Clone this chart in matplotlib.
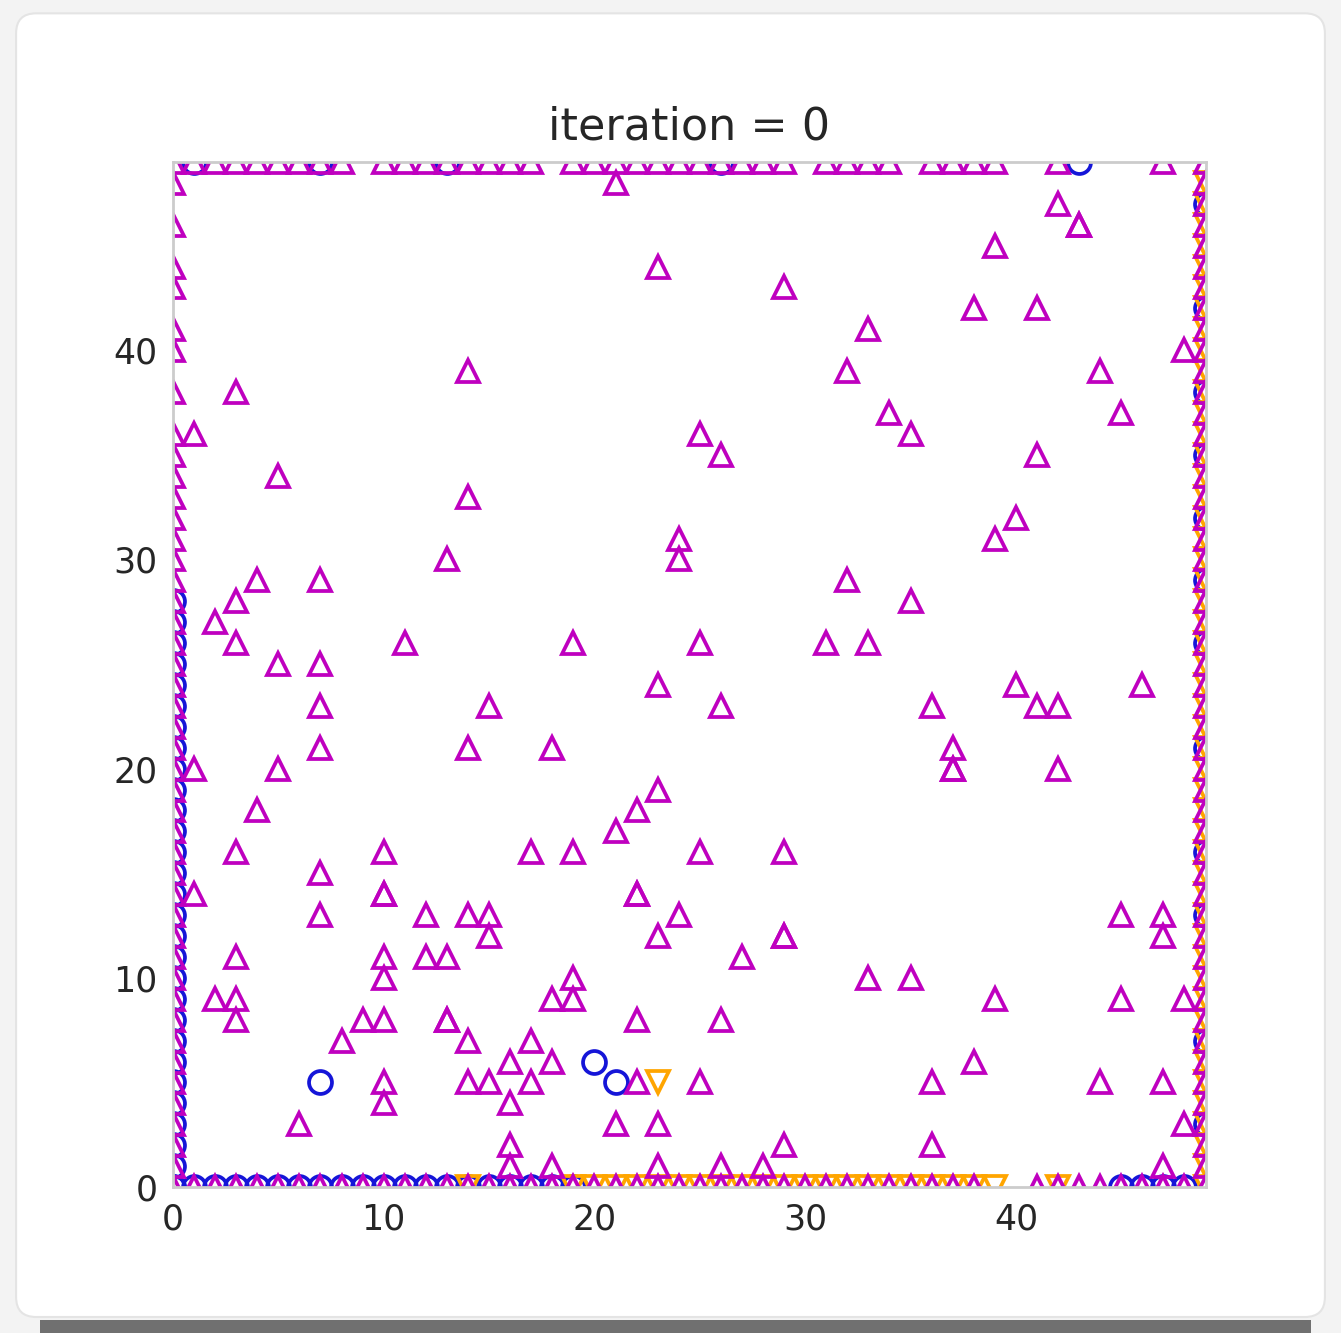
import matplotlib
matplotlib.use("Agg")
import matplotlib.pyplot as plt
from matplotlib.patches import FancyBboxPatch, Rectangle

# agents of type "a" (magenta up-triangles), interior cells; repeats = two agents in one cell
tri_x = [21, 23, 29, 42, 43, 43, 39, 38, 41, 33, 48, 32, 44, 14, 3, 34, 45, 1, 25, 35,
         26, 41, 5, 14, 40, 24, 39, 13, 24, 4, 7, 32, 3, 35, 2, 3, 11, 19, 25, 31,
         33, 5, 7, 23, 40, 46, 7, 15, 26, 36, 41, 42, 7, 14, 18, 37, 1, 5, 37, 37,
         42, 23, 4, 22, 21, 3, 10, 17, 19, 25, 29, 7, 1, 10, 10, 22, 22, 7, 12, 14,
         15, 24, 45, 47, 15, 23, 29, 29, 47, 3, 10, 12, 13, 27, 10, 19, 33, 35, 2, 3,
         18, 19, 39, 45, 48, 3, 9, 10, 13, 13, 22, 26, 8, 14, 17, 16, 18, 38, 10, 14,
         15, 17, 22, 25, 36, 44, 47, 10, 16, 6, 21, 23, 48, 16, 29, 36, 16, 18, 23, 26,
         28, 47]
tri_y = [48, 44, 43, 47, 46, 46, 45, 42, 42, 41, 40, 39, 39, 39, 38, 37, 37, 36, 36, 36,
         35, 35, 34, 33, 32, 31, 31, 30, 30, 29, 29, 29, 28, 28, 27, 26, 26, 26, 26, 26,
         26, 25, 25, 24, 24, 24, 23, 23, 23, 23, 23, 23, 21, 21, 21, 21, 20, 20, 20, 20,
         20, 19, 18, 18, 17, 16, 16, 16, 16, 16, 16, 15, 14, 14, 14, 14, 14, 13, 13, 13,
         13, 13, 13, 13, 12, 12, 12, 12, 12, 11, 11, 11, 11, 11, 10, 10, 10, 10, 9, 9,
         9, 9, 9, 9, 9, 8, 8, 8, 8, 8, 8, 8, 7, 7, 7, 6, 6, 6, 5, 5,
         5, 5, 5, 5, 5, 5, 5, 4, 4, 3, 3, 3, 3, 2, 2, 2, 1, 1, 1, 1,
         1, 1]

# type "a" agents pushed onto the border
tri_top_x = [0, 1, 2, 3, 4, 5, 6, 7, 8, 10, 11, 12, 13, 14, 15, 16, 17, 19, 20, 21,
             22, 23, 24, 25, 26, 27, 28, 29, 31, 32, 33, 34, 36, 37, 38, 39, 42, 47]
tri_bottom_x = [0, 1, 2, 3, 4, 5, 6, 7, 8, 9, 10, 11, 12, 13, 14, 15, 16, 17, 18, 19,
                20, 21, 22, 23, 24, 25, 26, 27, 28, 29, 30, 31, 32, 33, 34, 35, 36, 37, 38,
                41, 42, 43, 44, 45, 46, 47, 48]
tri_left_y = [48, 46, 44, 43, 41, 40, 38, 36, 35, 34, 33, 32, 31, 30, 29, 28, 27, 26, 25,
              24, 23, 22, 21, 20, 19, 18, 17, 16, 15, 14, 13, 12, 11, 10, 9, 8, 7, 6, 5,
              4, 3, 2, 1]
tri_right_y = [0, 1, 2, 3, 4, 5, 6, 7, 8, 9, 10, 11, 12, 13, 14, 15, 16, 17, 18, 19,
               20, 21, 22, 23, 24, 25, 26, 27, 28, 29, 30, 31, 32, 33, 34, 35, 36, 37, 38,
               39, 40, 41, 42, 43, 44, 45, 46, 47, 48, 49]

# type "b" agents (blue circles)
circ_x = [7, 20, 21]
circ_y = [5, 6, 5]
circ_top_x = [1, 7, 13, 26, 43]
circ_bottom_x = [0, 1, 2, 3, 4, 5, 6, 7, 8, 9, 10, 11, 12, 13, 14, 15, 16, 17, 18, 19,
                 45, 46, 47, 48]
circ_left_y = [0, 1, 2, 3, 4, 5, 6, 7, 8, 9, 10, 11, 12, 13, 14, 15, 16, 17, 18, 19,
               20, 21, 22, 23, 24, 25, 26, 27, 28]
circ_right_y = [3, 7, 13, 16, 21, 26, 29, 32, 35, 38, 42, 47]

# type "c" agents (orange down-triangles)
down_x = [23]
down_y = [5]
down_bottom_x = [14, 19, 20, 21, 22, 23, 24, 25, 26, 27, 28, 29, 30, 31, 32, 33, 34, 35,
                 36, 37, 38, 39, 42]
down_right_y = [0, 1, 2, 3, 4, 5, 6, 7, 8, 9, 10, 11, 12, 13, 14, 15, 16, 17, 18, 19,
                20, 21, 22, 23, 24, 25, 26, 27, 28, 29, 30, 31, 32, 33, 34, 35, 36, 37, 38,
                39, 40, 41, 42, 43, 44, 45, 46, 47, 48]

N = 49

fig = plt.figure(figsize=(13.41, 13.33), dpi=100, facecolor="#f3f3f3")

# card behind the chart and the torn bottom edge of the screenshot
card = FancyBboxPatch((0.012, 0.012), 0.976, 0.978, boxstyle="round,pad=0,rounding_size=0.015",
                      transform=fig.transFigure, facecolor="white", edgecolor="#e4e4e4",
                      linewidth=1.5, zorder=-2)
fig.patches.append(card)
torn = Rectangle((0.03, 0.0), 0.948, 0.01, transform=fig.transFigure,
                 facecolor="#707070", edgecolor="none", zorder=-1)
fig.patches.append(torn)

ax = fig.add_axes([0.129, 0.1095, 0.77, 0.769])
ax.set_zorder(2)
ax.set_facecolor("white")

def join(xs, ys, top_x, bottom_x, left_y, right_y):
    px = list(xs) + list(top_x) + list(bottom_x) + [0] * len(left_y) + [N] * len(right_y)
    py = list(ys) + [N] * len(top_x) + [0] * len(bottom_x) + list(left_y) + list(right_y)
    return px, py

bx, by = join(circ_x, circ_y, circ_top_x, circ_bottom_x, circ_left_y, circ_right_y)
ox, oy = join(down_x, down_y, [], down_bottom_x, [], down_right_y)
mx, my = join(tri_x, tri_y, tri_top_x, tri_bottom_x, tri_left_y, tri_right_y)

kw = dict(linestyle="none", markersize=16.5, markeredgewidth=2.7, markerfacecolor="none")
ax.plot(bx, by, marker="o", markeredgecolor="#1515d8", **kw)
ax.plot(ox, oy, marker="v", markeredgecolor="orange", **kw)
ax.plot(mx, my, marker="^", markeredgecolor="#bf00bf", **kw)

ax.set_xlim(0, N)
ax.set_ylim(0, N)
ax.set_xticks([0, 10, 20, 30, 40])
ax.set_yticks([0, 10, 20, 30, 40])
ax.tick_params(length=0, labelsize=25, labelcolor="#262626", pad=11)
for s in ax.spines.values():
    s.set_color("#cccccc")
    s.set_linewidth(2)
ax.set_title("iteration = 0", fontsize=32, color="#262626", pad=16)

fig.savefig("out.png", dpi=100, facecolor=fig.get_facecolor())
